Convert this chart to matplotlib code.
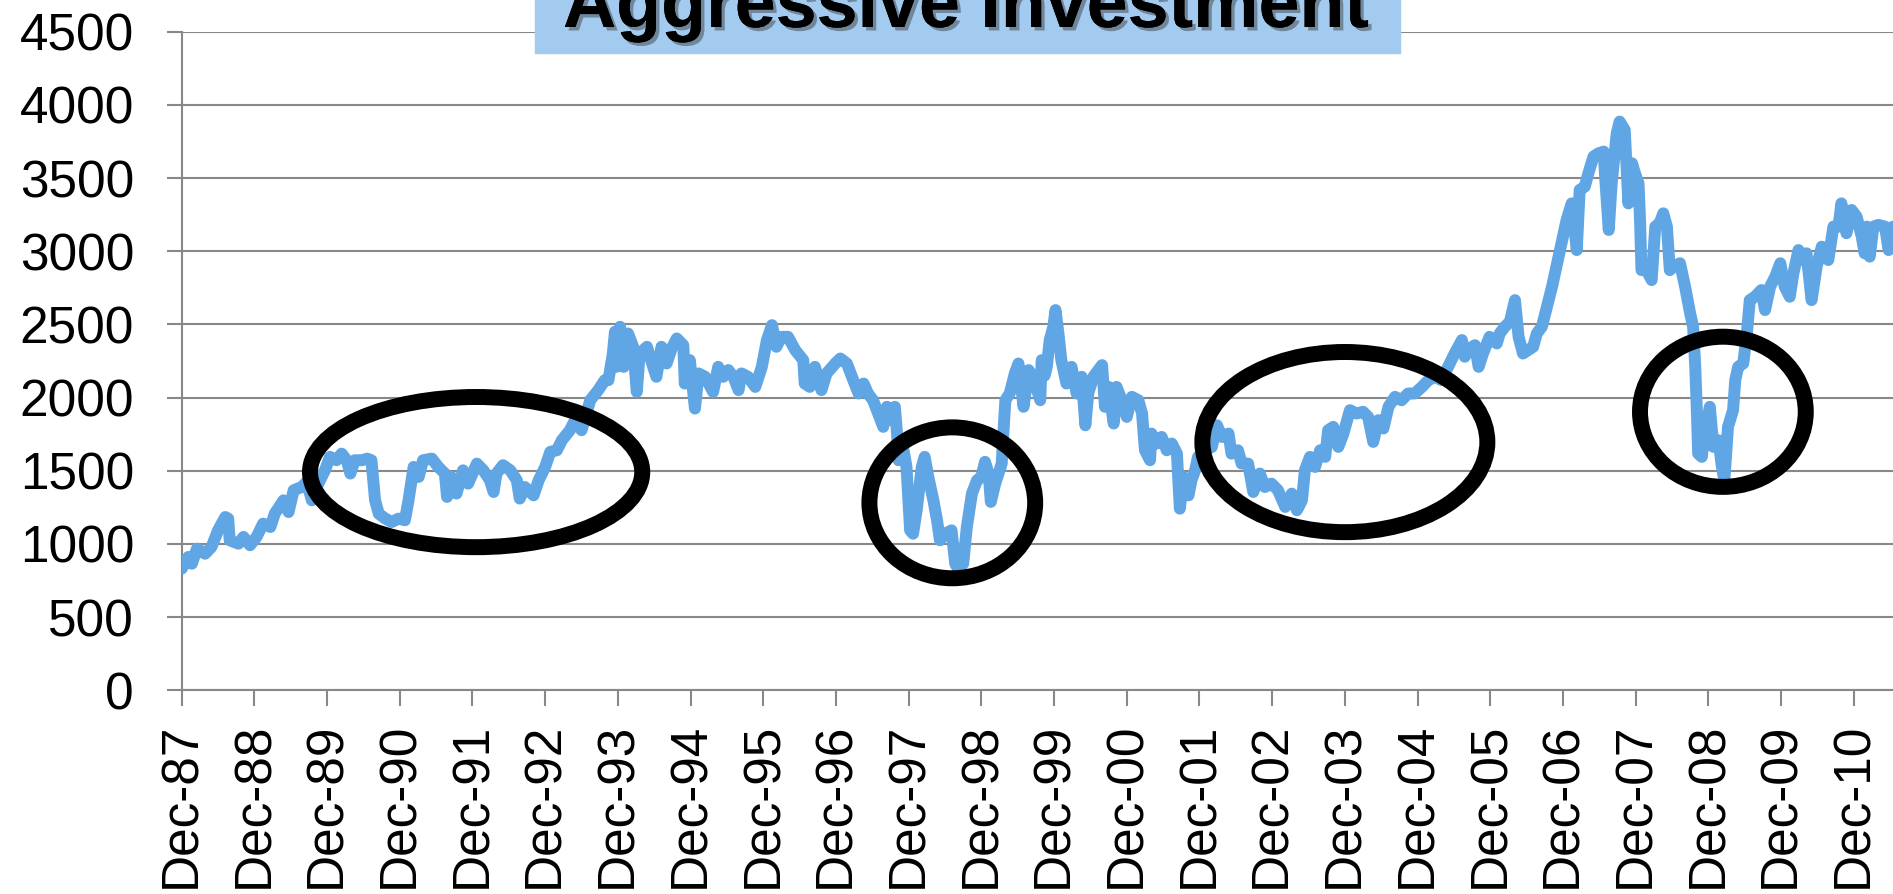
"""Aggressive Investment - growth of a portfolio, Dec-87 to mid-2011, with the
drawdown / flat periods circled."""

import matplotlib
matplotlib.use("Agg")
import matplotlib.pyplot as plt
import matplotlib.patheffects as pe
from matplotlib.patches import Ellipse, Rectangle

LINE_COLOR = "#61A6E4"
GRID_COLOR = "#888888"
BOX_COLOR = "#A3CBEF"
FONT = "Liberation Sans"

# x = years after Dec-87, y = portfolio value
years_from_dec87 = [
    0.00, 0.09, 0.14, 0.21, 0.32, 0.41, 0.50, 0.60, 0.64, 0.66, 0.78, 0.85, 0.94,
    1.03, 1.12, 1.22, 1.28, 1.40, 1.47, 1.54, 1.65, 1.72, 1.79, 1.88, 1.97,
    2.04, 2.13, 2.20, 2.27, 2.32, 2.38, 2.48, 2.55, 2.61, 2.66, 2.71, 2.80, 2.89, 2.98,
    3.07, 3.12, 3.19, 3.26, 3.32, 3.44, 3.53, 3.62, 3.65, 3.71, 3.78, 3.87, 3.94,
    4.06, 4.15, 4.24, 4.29, 4.33, 4.42, 4.52, 4.61, 4.65, 4.72, 4.84, 4.91,
    5.00, 5.07, 5.16, 5.23, 5.34, 5.41, 5.50, 5.62, 5.73, 5.82, 5.87, 5.93, 5.96, 5.98,
    6.03, 6.08, 6.14, 6.21, 6.26, 6.30, 6.40, 6.47, 6.53, 6.60, 6.67, 6.74, 6.81, 6.90, 6.92, 6.99,
    7.06, 7.11, 7.20, 7.31, 7.38, 7.45, 7.52, 7.59, 7.66, 7.70, 7.79, 7.89, 7.98,
    8.05, 8.12, 8.18, 8.25, 8.34, 8.44, 8.55, 8.57, 8.64, 8.71, 8.80, 8.87, 8.99,
    9.06, 9.15, 9.22, 9.31, 9.38, 9.44, 9.51, 9.58, 9.65, 9.70, 9.77, 9.81, 9.84, 9.86, 9.93, 9.97,
    10.02, 10.06, 10.11, 10.18, 10.22, 10.27, 10.34, 10.39, 10.43, 10.50, 10.59, 10.64, 10.68,
    10.75, 10.80, 10.87, 10.94,
    11.00, 11.05, 11.10, 11.13, 11.19, 11.28, 11.30, 11.33, 11.39, 11.46, 11.51, 11.58, 11.65,
    11.71, 11.81, 11.83, 11.87, 11.90, 11.94, 11.99,
    12.02, 12.06, 12.10, 12.17, 12.24, 12.31, 12.38, 12.43, 12.47, 12.54, 12.66, 12.70, 12.75,
    12.82, 12.86, 12.93,
    13.00, 13.07, 13.16, 13.21, 13.25, 13.32, 13.34, 13.41, 13.48, 13.55, 13.62, 13.69, 13.73,
    13.78, 13.85, 13.89, 13.94, 13.98,
    14.08, 14.17, 14.24, 14.31, 14.40, 14.44, 14.53, 14.58, 14.67, 14.74, 14.83, 14.90, 14.99,
    15.08, 15.18, 15.27, 15.34, 15.41, 15.45, 15.52, 15.59, 15.66, 15.73, 15.77, 15.84, 15.91, 15.98,
    16.07, 16.16, 16.25, 16.32, 16.39, 16.46, 16.53, 16.60, 16.69, 16.78, 16.87, 16.96,
    17.06, 17.15, 17.24, 17.33, 17.42, 17.51, 17.61, 17.65, 17.72, 17.79, 17.84, 17.90, 17.99,
    18.09, 18.13, 18.20, 18.27, 18.34, 18.39, 18.45, 18.52, 18.59, 18.64, 18.71, 18.78, 18.85,
    18.91, 18.98,
    19.05, 19.12, 19.19, 19.23, 19.30, 19.35, 19.42, 19.49, 19.56, 19.58, 19.63, 19.67, 19.74,
    19.78, 19.85, 19.90, 19.95, 19.99,
    20.04, 20.06, 20.08, 20.15, 20.22, 20.27, 20.33, 20.38, 20.43, 20.47, 20.52, 20.61, 20.68,
    20.75, 20.79, 20.82, 20.84, 20.86, 20.91, 20.95,
    21.02, 21.07, 21.14, 21.18, 21.22, 21.27, 21.34, 21.37, 21.41, 21.48, 21.53, 21.57, 21.64,
    21.73, 21.78, 21.85, 21.92, 21.99,
    22.05, 22.12, 22.17, 22.24, 22.31, 22.35, 22.42, 22.49, 22.56, 22.65, 22.72, 22.79, 22.83,
    22.90, 22.97,
    23.04, 23.11, 23.15, 23.18, 23.22, 23.27, 23.34, 23.43, 23.48, 23.54,
]
values = [
    831, 911, 865, 968, 933, 979, 1093, 1184, 1173, 1025, 1002, 1048, 991,
    1048, 1139, 1116, 1207, 1298, 1218, 1367, 1389, 1424, 1298, 1412, 1503,
    1595, 1572, 1617, 1572, 1481, 1572, 1572, 1583, 1572, 1298, 1207, 1173, 1150, 1173,
    1162, 1298, 1526, 1458, 1572, 1583, 1526, 1481, 1321, 1458, 1344, 1503, 1412,
    1549, 1503, 1435, 1355, 1481, 1538, 1503, 1435, 1310, 1389, 1332, 1435,
    1526, 1629, 1640, 1709, 1777, 1846, 1777, 1982, 2051, 2119, 2119, 2300, 2450, 2210,
    2484, 2210, 2438, 2347, 2039, 2301, 2347, 2233, 2142, 2347, 2233, 2336, 2404, 2358, 2096, 2256,
    1925, 2165, 2142, 2039, 2210, 2142, 2188, 2142, 2051, 2165, 2142, 2073, 2210,
    2393, 2495, 2347, 2415, 2415, 2324, 2256, 2096, 2073, 2210, 2051, 2165, 2233,
    2267, 2233, 2142, 2028, 2096, 2028, 1982, 1891, 1800, 1937, 1846, 1937, 1754, 1572, 1640, 1526,
    1093, 1070, 1230, 1526, 1595, 1458, 1298, 1162, 1025, 1070, 1093, 865, 830,
    865, 1116, 1344, 1435,
    1458, 1561, 1481, 1287, 1412, 1549, 1731, 1982, 2028, 2165, 2233, 1937, 2188,
    2142, 1982, 2256, 2150, 2210, 2393, 2484,
    2598, 2438, 2256, 2096, 2210, 2028, 2142, 1811, 2028, 2142, 2222, 1937, 2073,
    1823, 2073, 1982,
    1868, 2005, 1982, 1891, 1640, 1572, 1754, 1686, 1731, 1640, 1686, 1617, 1241,
    1458, 1332, 1435, 1503, 1595,
    1640, 1663, 1811, 1731, 1754, 1617, 1640, 1549, 1549, 1355, 1481, 1389, 1412,
    1367, 1253, 1344, 1230, 1298, 1503, 1595, 1526, 1640, 1595, 1777, 1800, 1663, 1754,
    1914, 1891, 1903, 1868, 1697, 1846, 1789, 1937, 2005, 1982, 2028, 2028,
    2073, 2119, 2142, 2119, 2210, 2301, 2393, 2279, 2336, 2358, 2210, 2301, 2415,
    2370, 2438, 2484, 2518, 2666, 2415, 2301, 2324, 2347, 2438, 2484, 2621, 2758,
    2895, 3054,
    3214, 3327, 3008, 3419, 3441, 3533, 3647, 3669, 3681, 3510, 3145, 3464, 3806,
    3886, 3829, 3327, 3601, 3533,
    3464, 3214, 2871, 2871, 2803, 3168, 3191, 3259, 3168, 2871, 2895, 2918, 2758,
    2575, 2484, 2210, 1937, 1617, 1595, 1754,
    1937, 1663, 1708, 1549, 1430, 1800, 1914, 2119, 2210, 2233, 2438, 2666, 2689,
    2735, 2598, 2758, 2826, 2918,
    2758, 2689, 2849, 3008, 2940, 2986, 2666, 2895, 3031, 2940, 3168, 3168, 3327,
    3123, 3282,
    3236, 3100, 2986, 3168, 2963, 3168, 3180, 3168, 3008, 3168,
]

tick_labels = [f"Dec-{(87 + i) % 100:02d}" for i in range(24)]

# circled periods: (centre year, centre value, width in years, height in value)
circles = [
    (4.05, 1491, 4.57, 1026),
    (10.60, 1281, 2.28, 1031),
    (16.00, 1696, 3.92, 1231),
    (21.20, 1903, 2.28, 1026),
]

fig = plt.figure(figsize=(18.93, 8.94), dpi=100)
ax = fig.add_axes([181.7 / 1893, 203.7 / 894, 1711.3 / 1893, 658.6 / 894])

ax.plot(years_from_dec87, values, color=LINE_COLOR, lw=8.6,
        solid_joinstyle="round", solid_capstyle="round", zorder=3)

for cx, cy, w, h in circles:
    ax.add_patch(Ellipse((cx, cy), w, h, fill=False, edgecolor="black",
                         lw=11.5, zorder=4, clip_on=False))

ax.set_xlim(0, 23.54)
ax.set_ylim(0, 4500)
ax.set_yticks(range(0, 4501, 500))
ax.set_xticks(range(24))
ax.set_xticklabels(tick_labels, rotation=90, fontfamily=FONT, fontsize=37)
for lab in ax.get_yticklabels():
    lab.set_fontfamily(FONT)
    lab.set_fontsize(37)

ax.yaxis.grid(True, color=GRID_COLOR, lw=1.5)
ax.set_axisbelow(True)
ax.tick_params(axis="x", length=11.5, width=1.5, color=GRID_COLOR, pad=12)
ax.tick_params(axis="y", length=10.8, width=1.5, color=GRID_COLOR, pad=23.5)
for side in ("top", "right"):
    ax.spines[side].set_visible(False)
for side in ("left", "bottom"):
    ax.spines[side].set_color(GRID_COLOR)
    ax.spines[side].set_linewidth(1.5)

# title box, cut off by the top of the picture as in the original
fig.add_artist(Rectangle((535 / 1893, 841 / 894), 865 / 1893, 60 / 894,
                         transform=fig.transFigure, color=BOX_COLOR, zorder=5))
fig.text(966 / 1893, 1 - 27 / 894, "Aggressive Investment", ha="center",
         va="baseline", fontsize=53, fontweight="bold", fontfamily=FONT, zorder=6,
         path_effects=[pe.withSimplePatchShadow(offset=(2.5, -2.5),
                                                shadow_rgbFace="#333333", alpha=0.45),
                       pe.Normal()])

fig.savefig("out.png", dpi=100)
